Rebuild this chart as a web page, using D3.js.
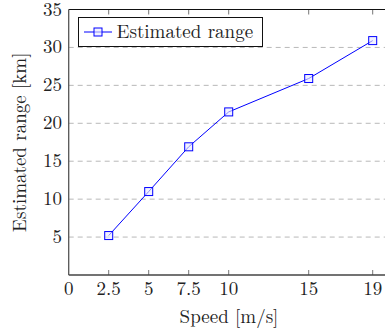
<!DOCTYPE html>
<html>
<head>
<meta charset="utf-8">
<script src="https://cdn.jsdelivr.net/npm/d3@7"></script>
<style>
  html, body { margin: 0; padding: 0; background: #fff; }
  svg { display: block; }
</style>
</head>
<body>
<svg id="chart" width="385" height="334"></svg>
<script>
// Estimated range as a function of speed
const speeds = [2.5, 5, 7.5, 10, 15, 19];
const ranges = [5.2, 11, 16.9, 21.5, 25.9, 30.9];
const xTicks = [0, 2.5, 5, 7.5, 10, 15, 19];
const yTicks = [5, 10, 15, 20, 25, 30, 35];
const seriesName = "Estimated range";
const xTitle = "Speed [m/s]";
const yTitle = "Estimated range [km]";

const FONT = "Latin Modern Roman, DejaVu Serif, serif";
const FS = 19;
const svg = d3.select("#chart");
const plotLeft = 68.7, plotTop = 9.5, plotBottom = 275, plotRight = 388.7;

const x = d3.scaleLinear().domain([0, 20]).range([plotLeft, plotRight]);
const y = d3.scaleLinear().domain([0, 35]).range([plotBottom, plotTop]);

// horizontal dashed grid
svg.append("g").selectAll("line")
  .data(yTicks.filter(v => v < 35))
  .join("line")
  .attr("x1", plotLeft).attr("x2", 385)
  .attr("y1", d => y(d)).attr("y2", d => y(d))
  .attr("stroke", "#b8b8b8").attr("stroke-width", 1)
  .attr("stroke-dasharray", "5,4");

// x tick marks on bottom (pointing up) and top (pointing down)
const tickLen = 5;
svg.append("g").selectAll("line")
  .data(xTicks.filter(v => v > 0))
  .join("line")
  .attr("x1", d => x(d)).attr("x2", d => x(d))
  .attr("y1", plotBottom).attr("y2", plotBottom - tickLen)
  .attr("stroke", "#777").attr("stroke-width", 1);
svg.append("g").selectAll("line")
  .data(xTicks.filter(v => v > 0))
  .join("line")
  .attr("x1", d => x(d)).attr("x2", d => x(d))
  .attr("y1", plotTop).attr("y2", plotTop + tickLen)
  .attr("stroke", "#777").attr("stroke-width", 1);

// axis frame
svg.append("line").attr("x1", plotLeft).attr("x2", 385).attr("y1", plotTop).attr("y2", plotTop)
  .attr("stroke", "#111").attr("stroke-width", 1.2);
svg.append("line").attr("x1", plotLeft).attr("x2", 385).attr("y1", plotBottom).attr("y2", plotBottom)
  .attr("stroke", "#444").attr("stroke-width", 1.3);
svg.append("line").attr("x1", plotLeft).attr("x2", plotLeft).attr("y1", plotTop).attr("y2", plotBottom)
  .attr("stroke", "#555").attr("stroke-width", 1.3);

// tick labels
svg.append("g").selectAll("text")
  .data(xTicks)
  .join("text")
  .attr("x", d => x(d)).attr("y", 295)
  .attr("text-anchor", "middle")
  .attr("font-family", FONT).attr("font-size", FS).attr("fill", "#222")
  .text(d => d);
svg.append("g").selectAll("text")
  .data(yTicks)
  .join("text")
  .attr("x", 62).attr("y", d => y(d) + 6)
  .attr("text-anchor", "end")
  .attr("font-family", FONT).attr("font-size", FS).attr("fill", "#222")
  .text(d => d);

// axis titles
svg.append("text")
  .attr("x", 229).attr("y", 322.5)
  .attr("text-anchor", "middle")
  .attr("font-family", FONT).attr("font-size", FS).attr("fill", "#222")
  .text(xTitle);
svg.append("text")
  .attr("transform", `translate(25.5,${(plotTop + plotBottom) / 2}) rotate(-90)`)
  .attr("text-anchor", "middle")
  .attr("font-family", FONT).attr("font-size", FS).attr("fill", "#222")
  .text(yTitle);

// series line
const line = d3.line().x((d, i) => x(speeds[i])).y(d => y(d));
svg.append("path")
  .datum(ranges)
  .attr("d", line)
  .attr("fill", "none").attr("stroke", "#0000ff").attr("stroke-width", 1);

// square markers
const m = 8;
svg.append("g").selectAll("rect")
  .data(ranges)
  .join("rect")
  .attr("x", (d, i) => x(speeds[i]) - m / 2)
  .attr("y", d => y(d) - m / 2)
  .attr("width", m).attr("height", m)
  .attr("fill", "#e8e8ff").attr("fill-opacity", 0.6)
  .attr("stroke", "#0000ff").attr("stroke-width", 1);

// legend
const lg = svg.append("g");
lg.append("rect").attr("x", 78.5).attr("y", 17.5).attr("width", 184).attr("height", 29)
  .attr("fill", "#fff").attr("stroke", "#111").attr("stroke-width", 1);
lg.append("line").attr("x1", 84).attr("x2", 112).attr("y1", 32).attr("y2", 32)
  .attr("stroke", "#0000ff").attr("stroke-width", 1);
lg.append("rect").attr("x", 98 - m / 2).attr("y", 32 - m / 2).attr("width", m).attr("height", m)
  .attr("fill", "#e8e8ff").attr("fill-opacity", 0.6)
  .attr("stroke", "#0000ff").attr("stroke-width", 1);
lg.append("text").attr("x", 116.5).attr("y", 37.5)
  .attr("font-family", FONT).attr("font-size", FS).attr("fill", "#222")
  .text(seriesName);
</script>
</body>
</html>
